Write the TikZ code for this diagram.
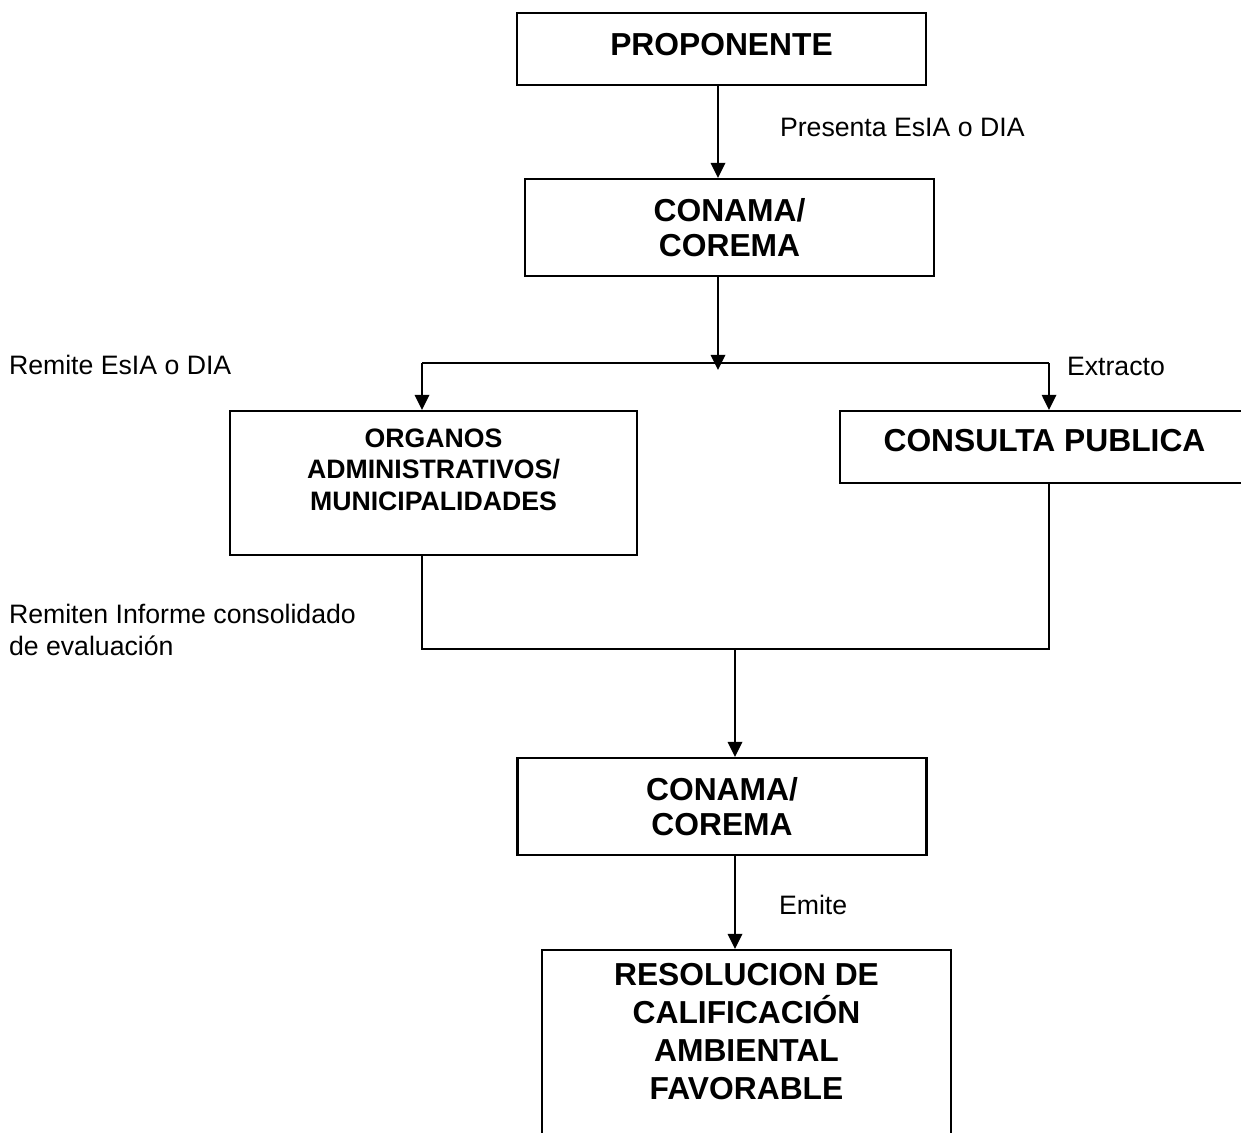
\documentclass[tikz,border=0pt]{standalone}
\usepackage{fontspec}
\setmainfont{Liberation Sans}
\usetikzlibrary{arrows.meta}
\tikzset{every picture/.style={line width=0.9pt}}

\begin{document}
\begin{tikzpicture}[x=0.45pt, y=-0.45pt,
    >={Triangle[length=6.8pt,width=6.5pt]},
    box/.style={draw, rectangle, line width=1pt, minimum width=184pt, align=center, inner sep=0pt, font=\fontsize{14.3}{16}\selectfont\bfseries},
    smallbox/.style={box, font=\fontsize{12}{14}\selectfont\bfseries},
    lbl/.style={anchor=west, inner sep=0pt, align=left, font=\fontsize{12}{14}\selectfont}]
    \useasboundingbox (0,0) rectangle (1241,1133);
    \clip (0,0) rectangle (1241,1133);

    % Boxes
    \node[box, minimum height=32.4pt, text depth=4.5pt] (prop) at (721.5,49) {PROPONENTE};
    \node[box, minimum height=43.65pt] (conama1) at (729.5,227.5) {CONAMA/\\COREMA};
    \node[smallbox, minimum width=183.15pt, minimum height=64.8pt] (organos) at (433.5,483) {ORGANOS\\ADMINISTRATIVOS/\\MUNICIPALIDADES\rule[-12pt]{0pt}{12pt}};
    \node[box, minimum height=32.4pt, text depth=6.3pt] (consulta) at (1044.5,447) {CONSULTA PUBLICA};
    \node[box, minimum height=43.65pt] (conama2) at (722,806.5) {CONAMA/\\COREMA};
    \node[box, anchor=north, inner ysep=6.1pt, font=\fontsize{14.3}{17}\selectfont\bfseries] (resol) at (746.5,949) {RESOLUCION DE\\CALIFICACIÓN\\AMBIENTAL\\FAVORABLE\rule[-40pt]{0pt}{40pt}};

    % Connections
    \coordinate (split) at (718,363);
    \coordinate (splitL) at (422,363);
    \coordinate (splitR) at (1049,363);
    \coordinate (splitTip) at (718,370);
    \coordinate (joinL) at (422,649);
    \coordinate (joinR) at (1049,649);
    \coordinate (join) at (735,649);
    \draw[->] (prop.south -| split) -- (conama1.north -| split);
    \draw[->] (conama1.south -| split) -- (splitTip);
    \draw (splitL) -- (splitR);
    \draw[->] (splitL) -- (organos.north -| splitL);
    \draw[->] (splitR) -- (consulta.north -| splitR);
    \draw (organos.south -| joinL) -- (joinL) -- (joinR) -- (consulta.south -| joinR);
    \draw[->] (join) -- (conama2.north -| join);
    \draw[->] (conama2.south -| join) -- (resol.north -| join);

    % Labels
    \node[lbl] (pres) at (779,127) {Presenta EsIA o DIA};
    \node[lbl] (remite) at (8,365) {Remite EsIA o DIA};
    \node[lbl] (extracto) at (1066,366) {Extracto};
    \node[lbl] (remiten) at (8,630) {Remiten Informe consolidado\\de evaluación};
    \node[lbl] (emite) at (778,905) {Emite};
\end{tikzpicture}
\end{document}
